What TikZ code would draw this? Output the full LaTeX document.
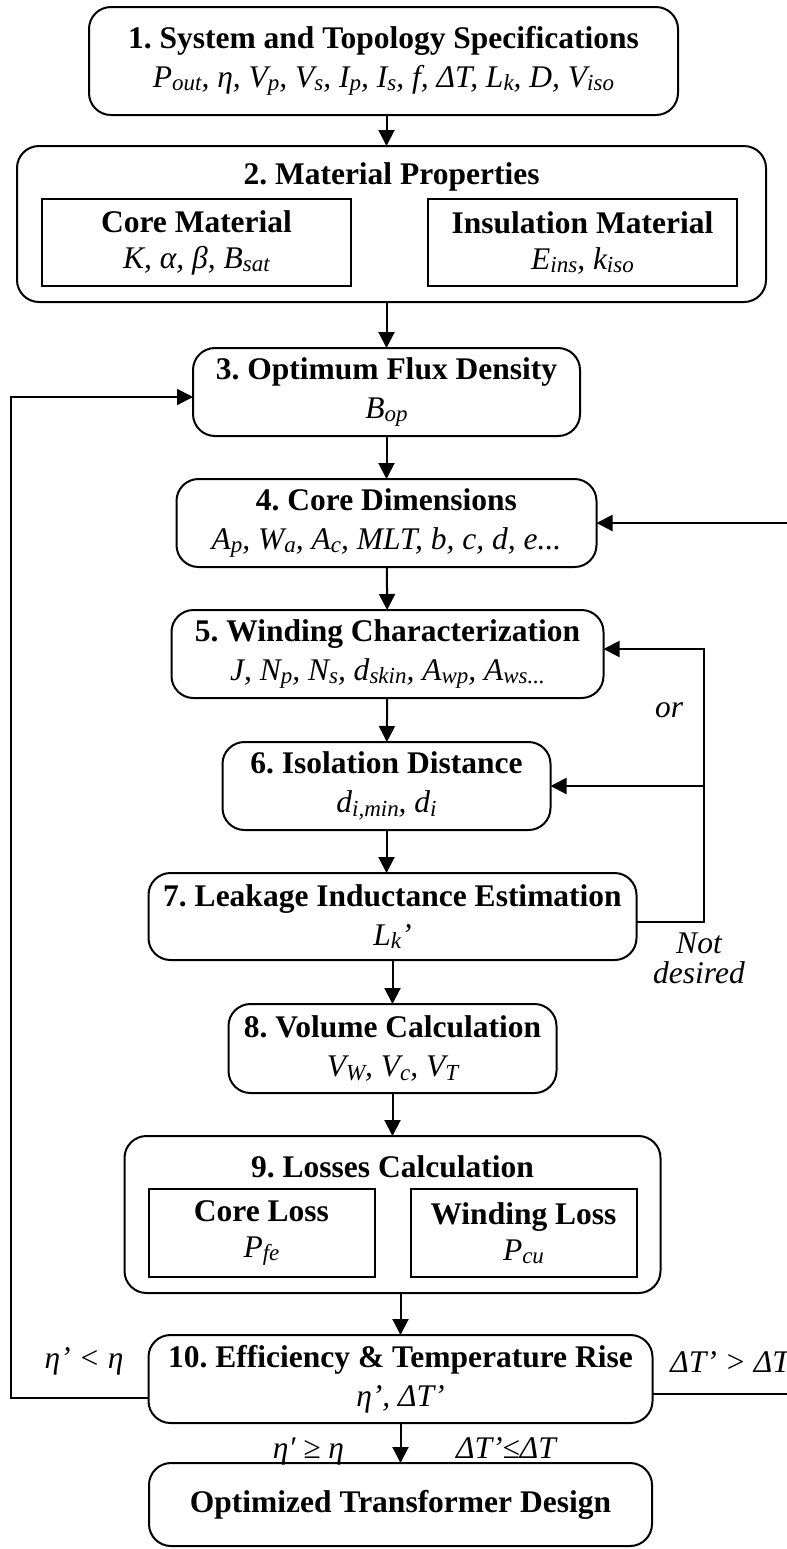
\documentclass[tikz,border=0pt]{standalone}
\usepackage{fontspec}
\setmainfont{Liberation Serif}
\usepackage{tikz}
\usetikzlibrary{positioning, arrows.meta}
\frenchspacing

\newcommand{\sbs}[1]{\raisebox{-0.25ex}{\fontsize{11.5pt}{12pt}\selectfont #1}}

\begin{document}
\begin{tikzpicture}[
            node distance=21.5pt,
            stage/.style={rectangle, rounded corners=11pt, draw=black, line width=1pt, outer sep=0pt, align=center, inner sep=2pt, minimum height=44pt, font=\fontsize{15.75pt}{19.5pt}\selectfont},
            subbox/.style={rectangle, draw=black, line width=1pt, outer sep=0pt, align=center, inner sep=2pt, font=\fontsize{15.75pt}{18pt}\selectfont},
            heading/.style={inner sep=0pt, font=\fontsize{15.75pt}{19pt}\selectfont\bfseries},
            cond/.style={inner sep=0pt, align=center, font=\fontsize{15.75pt}{15pt}\selectfont\itshape},
            flow/.style={-{Triangle[length=8pt, width=8pt]}, line width=1pt}
        ]

        \useasboundingbox (0,0) rectangle (393.5pt,-774.5pt);
        \clip (0,0) rectangle (393.5pt,-774.5pt);

        % main chain of design steps
        \node[stage, minimum width=294.5pt, minimum height=54pt] (specs) at (191.75pt,-30.5pt) {\textbf{1. System and Topology Specifications}\\ \textit{P\sbs{out}, η, V\sbs{p}, V\sbs{s}, I\sbs{p}, I\sbs{s}, f, ΔT, L\sbs{k}, D, V\sbs{iso}}};
        \node[stage, minimum width=374.5pt, minimum height=78pt] (matprop) [below=15.5pt of specs, xshift=4pt] {};
        \node[heading, anchor=base] (matproptitle) at ([yshift=-19pt]matprop.north) {2. Material Properties};
        \node[subbox, minimum width=154.5pt, minimum height=43.5pt, anchor=south west] (corematl) at ([xshift=12.5pt, yshift=8pt]matprop.south west) {\textbf{Core Material}\\ \textit{K, α, β, B\sbs{sat}}};
        \node[subbox, minimum width=154.5pt, minimum height=43.5pt, anchor=south east] (insmatl) at ([xshift=-14.5pt, yshift=8pt]matprop.south east) {\textbf{Insulation Material}\\ \textit{E\sbs{ins}, k\sbs{iso}}};
        \node[stage, minimum width=193.5pt] (fluxdens) [below=23pt of matprop, xshift=-2.5pt] {\textbf{3. Optimum Flux Density}\\ \textit{B\sbs{op}}};
        \node[stage, minimum width=210pt] (coredim) [below=of fluxdens] {\textbf{4. Core Dimensions}\\ \textit{A\sbs{p}, W\sbs{a}, A\sbs{c}, MLT, b, c, d, e...}};
        \node[stage, minimum width=216pt] (winding) [below=of coredim, xshift=0.5pt] {\textbf{5. Winding Characterization}\\ \textit{J, N\sbs{p}, N\sbs{s}, d\sbs{skin}, A\sbs{wp}, A\sbs{ws...}}};
        \node[stage, minimum width=164pt] (isolation) [below=22pt of winding, xshift=-0.5pt] {\textbf{6. Isolation Distance}\\ \textit{d\sbs{i,min}, d\sbs{i}}};
        \node[stage, minimum width=244pt, minimum height=43.5pt] (leakage) [below=of isolation, xshift=3pt] {\textbf{7. Leakage Inductance Estimation}\\ \textit{L\sbs{k}’}};
        \node[stage, minimum width=164pt, minimum height=44.5pt] (volume) [below=22pt of leakage] {\textbf{8. Volume Calculation}\\ \textit{V\sbs{W}, V\sbs{c}, V\sbs{T}}};
        \node[stage, minimum width=268pt, minimum height=78.5pt] (losses) [below=of volume] {};
        \node[heading, anchor=base] (lossestitle) at ([yshift=-20.5pt]losses.north) {9. Losses Calculation};
        \node[subbox, minimum width=113pt, minimum height=44pt, anchor=south west] (coreloss) at ([xshift=12pt, yshift=8pt]losses.south west) {\textbf{Core Loss}\\ \textit{P\sbs{fe}}};
        \node[subbox, minimum width=113pt, minimum height=44pt, anchor=south east] (windloss) at ([xshift=-12pt, yshift=8pt]losses.south east) {\textbf{Winding Loss}\\ \textit{P\sbs{cu}}};
        \node[stage, minimum width=252pt] (effic) [below=21pt of losses, xshift=4pt] {\textbf{10. Efficiency \& Temperature Rise}\\ \textit{η’, ΔT’}};
        \node[stage, minimum width=251.5pt, minimum height=41.5pt] (design) [below=20pt of effic] {\textbf{Optimized Transformer Design}};

        \draw[flow] (specs.south -| fluxdens) -- (matprop.north -| fluxdens);
        \draw[flow] (matprop.south -| fluxdens) -- (fluxdens.north);
        \draw[flow] (fluxdens) -- (coredim);
        \draw[flow] (coredim) -- (winding);
        \draw[flow] (winding) -- (isolation);
        \draw[flow] (isolation.south) -- (isolation.south |- leakage.north);
        \draw[flow] (leakage) -- (volume);
        \draw[flow] (volume) -- (losses);
        \draw[flow] (effic.north |- losses.south) -- (effic.north);
        \draw[flow] (effic) -- (design);

        % feedback loops
        \coordinate (orx) at (352pt,0);
        \coordinate (leftx) at (5.5pt,0);
        \coordinate (rightx) at (400pt,0);
        \coordinate (windin) at ([yshift=2.5pt]winding.east);
        \coordinate (fluxin) at ([yshift=-2.5pt]fluxdens.west);
        \draw[flow] ([yshift=-2.75pt]leakage.east) -| (orx |- windin) -- (windin);
        \draw[flow] (orx |- isolation.east) -- (isolation.east);
        \draw[flow] ([yshift=-9.5pt]effic.west) -| (leftx |- fluxin) -- (fluxin);
        \draw[flow] ([yshift=-7.5pt]effic.east) -| (rightx |- coredim.east) -- (coredim.east);

        % conditions
        \node[cond, anchor=base] (orlbl) at (334.5pt,-358.5pt) {or};
        \node[cond] (notdes) at (349.5pt,-479pt) {Not\\desired};
        \node[cond, anchor=base] (effless) at (42pt,-684pt) {η’ < η};
        \node[cond, anchor=base west] (tempmore) at (335pt,-686pt) {ΔT’ > ΔT};
        \node[cond, anchor=base] (effok) at (154.25pt,-729pt) {η′ ≥ η};
        \node[cond, anchor=base] (tempok) at (253pt,-729pt) {ΔT’≤ΔT};

    \end{tikzpicture}
\end{document}
